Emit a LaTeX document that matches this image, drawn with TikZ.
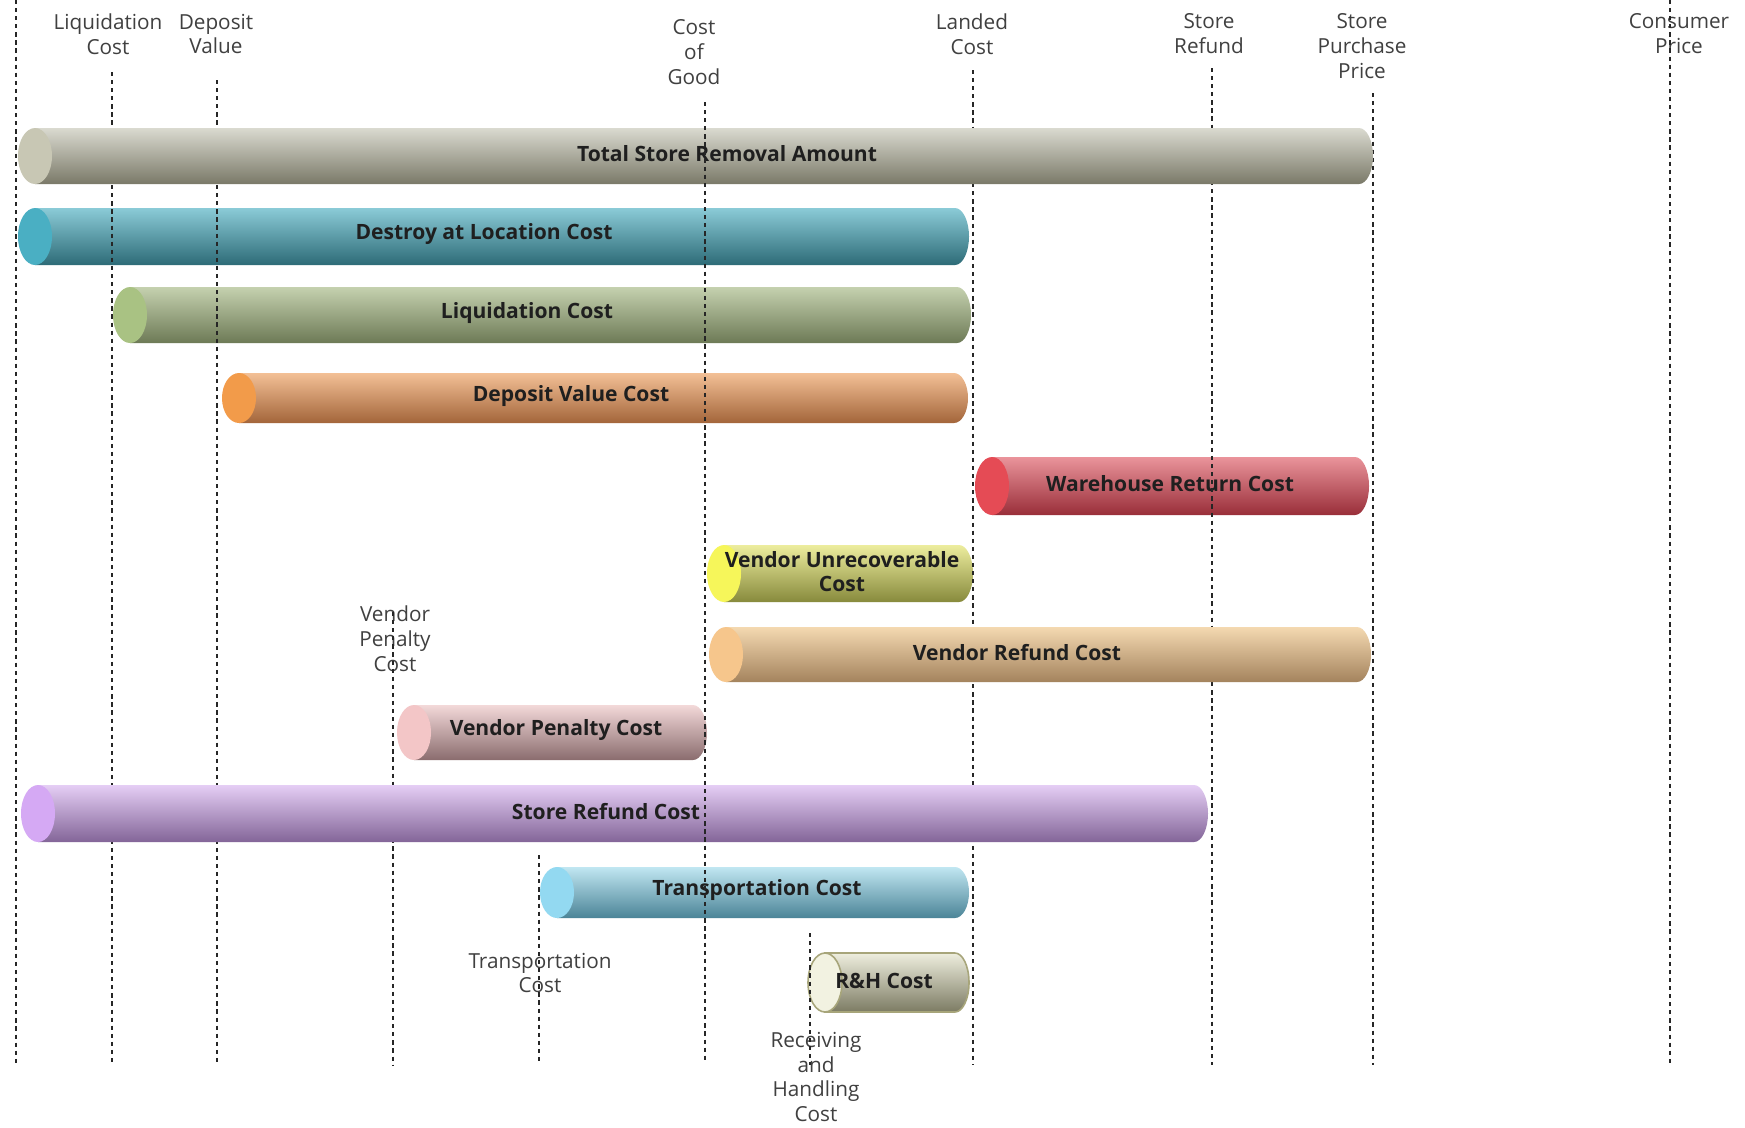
\documentclass[tikz,border=0pt]{standalone}
\usepackage{fontspec}
\setmainfont{Open Sans}

\definecolor{totalT}{HTML}{DADAD0}\definecolor{totalB}{HTML}{7A7968}\definecolor{totalC}{HTML}{C8C7B4}
\definecolor{destroyT}{HTML}{8BCBD7}\definecolor{destroyB}{HTML}{2D6B77}\definecolor{destroyC}{HTML}{4AAFC3}
\definecolor{liqT}{HTML}{C5D1AF}\definecolor{liqB}{HTML}{6D7A56}\definecolor{liqC}{HTML}{A9C283}
\definecolor{depT}{HTML}{F3C096}\definecolor{depB}{HTML}{A3653A}\definecolor{depC}{HTML}{F29B4A}
\definecolor{whT}{HTML}{EA949B}\definecolor{whB}{HTML}{992E39}\definecolor{whC}{HTML}{E54B55}
\definecolor{unrT}{HTML}{EDED9E}\definecolor{unrB}{HTML}{878A3C}\definecolor{unrC}{HTML}{F6F65A}
\definecolor{vrT}{HTML}{F4D9B1}\definecolor{vrB}{HTML}{A4835D}\definecolor{vrC}{HTML}{F6C68C}
\definecolor{penT}{HTML}{F3D9D9}\definecolor{penB}{HTML}{8A6C6E}\definecolor{penC}{HTML}{F3C6C7}
\definecolor{srT}{HTML}{E5CEF5}\definecolor{srB}{HTML}{836598}\definecolor{srC}{HTML}{D5A9F4}
\definecolor{trT}{HTML}{C1E7F2}\definecolor{trB}{HTML}{4B8497}\definecolor{trC}{HTML}{93D9F1}
\definecolor{rhT}{HTML}{EEEEDE}\definecolor{rhB}{HTML}{7C7B63}\definecolor{rhC}{HTML}{F2F2E1}\definecolor{rhE}{HTML}{A7A57A}

% [style] name, left, right, top, bottom, colour prefix, label x, text
\newcommand{\costbar}[9][]{%
  \pgfmathsetmacro\cbM{(#5+#6)/2}\pgfmathsetmacro\cbH{(#6-#5)/2}%
  \pgfmathsetmacro\cbK{0.552*\cbH}%
  \pgfmathsetmacro\cbL{#3+17}\pgfmathsetmacro\cbR{#4-14}%
  \path[top color=#7T, bottom color=#7B, #1] (\cbL,#5) -- (\cbR,#5)
    .. controls ({\cbR+7.7},#5) and (#4,{\cbM-\cbK}) .. (#4,\cbM)
    .. controls (#4,{\cbM+\cbK}) and ({\cbR+7.7},#6) .. (\cbR,#6) -- (\cbL,#6) -- cycle;
  \path[fill=#7C, #1] (\cbL,\cbM) ellipse [x radius=17, y radius=\cbH];
  \node[barlabel] (#2) at (#8,{\cbM-2}) {#9};}

\begin{document}
\begin{tikzpicture}[x=0.02cm, y=-0.02cm,
  guide/.style={line width=0.8pt, black!85, dash pattern=on 2.4pt off 2.2pt},
  pricelabel/.style={font=\fontsize{11.8}{14.2}\selectfont, text=black!75, align=center, inner sep=0},
  barlabel/.style={font=\bfseries\fontsize{12}{13.6}\selectfont, text=black!88, align=center, inner sep=0},
  rhbar/.style={draw=rhE, line width=0.9pt}]
\useasboundingbox[fill=white] (0,0) rectangle (1745,1127);

% bars lying under the guides
\costbar{barDestroy}{18}{969}{208}{265}{destroy}{484}{Destroy at Location Cost}
\costbar{barLiq}{113}{971}{287}{343}{liq}{527}{Liquidation Cost}
\costbar{barDep}{222}{968}{373}{423}{dep}{571}{Deposit Value Cost}
\costbar{barWh}{975}{1369}{457}{515}{wh}{1170}{Warehouse Return Cost}
\costbar{barUnr}{707}{973}{545}{602}{unr}{842}{Vendor Unrecoverable\\Cost}
\costbar{barPen}{397}{707}{705}{760}{pen}{556}{Vendor Penalty Cost}
\costbar{barTrans}{540}{969}{867}{918}{tr}{757}{Transportation Cost}
\costbar[rhbar]{barRH}{808}{969}{953}{1012}{rh}{884}{R\&H Cost}

% price points
\node[pricelabel] (liq)    at (108,34)   {Liquidation\\Cost};
\node[pricelabel] (dep)    at (216,34)   {Deposit\\Value};
\node[pricelabel] (cog)    at (694,52)   {Cost\\of\\Good};
\node[pricelabel] (landed) at (972,34)   {Landed\\Cost};
\node[pricelabel] (sref)   at (1209,34)  {Store\\Refund};
\node[pricelabel] (spp)    at (1362,46)  {Store\\Purchase\\Price};
\node[pricelabel] (cons)   at (1679,34)  {Consumer\\Price};
\node[pricelabel] (vpen)   at (395,639)  {Vendor\\Penalty\\Cost};
\node[pricelabel] (trans)  at (540,973)  {Transportation\\Cost};
\node[pricelabel] (rh)     at (816,1077) {Receiving\\and\\Handling\\Cost};

\foreach \x/\t in {16/0, 112/72, 217/80, 393/612, 539/855, 810/933, 973/70, 1212/68, 1373/93, 1670/0}
  \draw[guide] (\x,\t) -- (\x,1065);

% bars lying over the guides
\costbar{barTotal}{18}{1373}{128}{184}{total}{727}{Total Store Removal Amount}
\costbar{barVr}{709}{1371}{627}{682}{vr}{1017}{Vendor Refund Cost}
\costbar{barSr}{21}{1208}{785}{842}{sr}{606}{Store Refund Cost}

\draw[guide] (705,102) -- (705,1063);
\end{tikzpicture}
\end{document}
